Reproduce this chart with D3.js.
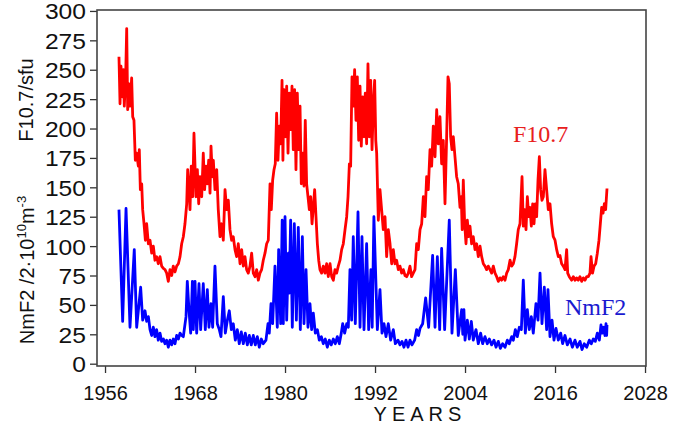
<!DOCTYPE html>
<html><head><meta charset="utf-8">
<script src="https://cdn.jsdelivr.net/npm/d3@7"></script>
<style>body{margin:0;background:#fff}svg{display:block}</style>
</head><body>
<svg id="chart" width="687" height="432"></svg>
<script>
const xTickValues = [1956, 1968, 1980, 1992, 2004, 2016, 2028];
const yTickValues = [0, 25, 50, 75, 100, 125, 150, 175, 200, 225, 250, 275, 300];

const f107Data = [
[1957.86,261],[1958.0,221],[1958.13,253],[1958.3,227],[1958.44,250],[1958.57,219],[1958.75,244],[1958.89,285],
[1959.02,216],[1959.2,238],[1959.33,219],[1959.55,243],[1959.69,210],[1959.86,207],[1960.04,173],[1960.22,179],
[1960.44,168],[1960.57,182],[1960.71,148],[1960.89,153],[1961.02,131],[1961.2,119],[1961.38,105],[1961.55,119],
[1961.78,102],[1962.0,105],[1962.22,94],[1962.44,100],[1962.66,88],[1962.89,91],[1963.1,85],[1963.33,91],
[1963.55,83],[1963.78,81],[1964.0,80],[1964.22,77],[1964.44,70],[1964.66,80],[1964.89,75],[1965.1,83],
[1965.33,78],[1965.55,83],[1965.78,85],[1966.0,91],[1966.22,102],[1966.44,108],[1966.66,119],[1966.89,136],
[1967.02,165],[1967.15,153],[1967.33,131],[1967.5,168],[1967.69,142],[1967.86,196],[1968.13,142],[1968.31,165],
[1968.49,136],[1968.66,159],[1968.89,142],[1969.1,179],[1969.28,148],[1969.46,168],[1969.64,153],[1969.82,173],
[1970.0,145],[1970.13,185],[1970.31,159],[1970.44,173],[1970.66,148],[1970.89,165],[1971.1,131],[1971.33,108],
[1971.55,119],[1971.77,105],[1972.0,148],[1972.22,131],[1972.44,139],[1972.66,114],[1972.88,105],[1973.1,108],
[1973.33,97],[1973.55,91],[1973.77,102],[1974.0,85],[1974.22,97],[1974.44,83],[1974.66,91],[1974.88,80],
[1975.1,77],[1975.33,83],[1975.55,94],[1975.77,77],[1976.0,74],[1976.22,80],[1976.44,71],[1976.66,77],
[1976.88,80],[1977.1,88],[1977.33,94],[1977.55,102],[1977.77,105],[1978.0,153],[1978.17,131],[1978.35,156],
[1978.53,165],[1978.7,170],[1978.88,213],[1979.06,173],[1979.24,202],[1979.42,187],[1979.6,241],[1979.72,173],
[1979.86,233],[1980.04,193],[1980.22,236],[1980.4,179],[1980.58,230],[1980.75,199],[1980.93,236],[1981.1,182],
[1981.28,233],[1981.46,165],[1981.64,230],[1981.82,182],[1982.0,219],[1982.17,153],[1982.35,179],[1982.53,151],
[1982.7,207],[1982.88,153],[1983.06,142],[1983.24,131],[1983.42,142],[1983.6,119],[1983.77,133],[1983.95,148],
[1984.13,125],[1984.31,102],[1984.49,88],[1984.66,80],[1984.88,77],[1985.1,83],[1985.33,77],[1985.55,85],
[1985.77,74],[1986.0,85],[1986.22,74],[1986.44,71],[1986.66,80],[1986.88,77],[1987.1,83],[1987.33,88],
[1987.55,97],[1987.77,102],[1988.0,114],[1988.22,125],[1988.4,142],[1988.58,170],[1988.75,168],[1988.93,244],
[1989.1,219],[1989.28,250],[1989.46,207],[1989.64,244],[1989.82,190],[1990.0,236],[1990.17,185],[1990.35,227],
[1990.53,193],[1990.7,230],[1990.88,187],[1991.06,255],[1991.24,193],[1991.42,241],[1991.6,182],[1991.8,225],
[1991.95,241],[1992.1,190],[1992.22,179],[1992.44,122],[1992.66,148],[1992.88,131],[1993.1,114],[1993.33,125],
[1993.55,91],[1993.77,114],[1994.0,102],[1994.22,85],[1994.44,97],[1994.66,85],[1994.88,88],[1995.1,80],
[1995.33,83],[1995.55,77],[1995.77,80],[1996.0,75],[1996.22,74],[1996.44,77],[1996.66,83],[1996.88,74],
[1997.1,77],[1997.33,80],[1997.55,102],[1997.77,97],[1998.0,114],[1998.22,119],[1998.44,142],[1998.66,125],
[1998.88,159],[1999.1,148],[1999.33,182],[1999.55,168],[1999.77,202],[2000.0,176],[2000.22,216],[2000.44,187],
[2000.66,210],[2000.88,170],[2001.1,190],[2001.33,136],[2001.55,193],[2001.73,244],[2001.9,238],[2002.08,193],
[2002.26,182],[2002.44,193],[2002.66,176],[2002.88,159],[2003.1,153],[2003.33,133],[2003.5,142],[2003.62,114],
[2003.77,156],[2003.95,119],[2004.13,102],[2004.31,122],[2004.49,108],[2004.66,117],[2004.88,102],[2005.1,108],
[2005.33,97],[2005.55,102],[2005.77,91],[2006.0,100],[2006.22,91],[2006.44,85],[2006.66,83],[2006.88,80],
[2007.1,83],[2007.33,80],[2007.55,77],[2007.77,83],[2008.0,77],[2008.22,74],[2008.44,70],[2008.66,73],
[2008.88,71],[2009.1,74],[2009.33,71],[2009.55,77],[2009.77,80],[2010.0,88],[2010.22,83],[2010.44,85],
[2010.66,91],[2010.88,102],[2011.1,114],[2011.33,119],[2011.6,159],[2011.77,117],[2011.95,131],[2012.13,114],
[2012.31,142],[2012.49,125],[2012.66,133],[2012.84,117],[2013.02,136],[2013.2,119],[2013.37,136],[2013.55,125],
[2013.73,156],[2013.91,176],[2014.08,148],[2014.26,139],[2014.44,142],[2014.66,165],[2014.88,148],[2015.1,131],
[2015.33,136],[2015.55,119],[2015.77,108],[2016.0,105],[2016.22,97],[2016.44,91],[2016.66,92],[2016.88,85],
[2017.1,83],[2017.33,80],[2017.55,97],[2017.69,77],[2017.9,74],[2018.22,71],[2018.44,74],[2018.66,71],
[2018.88,73],[2019.1,71],[2019.33,74],[2019.55,70],[2019.77,73],[2020.0,71],[2020.22,74],[2020.44,74],
[2020.66,77],[2020.8,91],[2021.0,77],[2021.2,83],[2021.42,85],[2021.64,94],[2021.86,105],[2022.04,119],
[2022.22,133],[2022.4,128],[2022.58,136],[2022.75,131],[2022.93,149]
];

const nmf2Data = [
[1957.86,131],[1958.35,36],[1958.8,132],[1959.33,31],[1959.9,97],[1960.22,31],[1960.75,65],[1961.02,37],
[1961.33,45],[1961.55,36],[1961.78,40],[1962.0,29],[1962.22,24],[1962.44,31],[1962.66,23],[1962.88,29],
[1963.1,20],[1963.33,26],[1963.55,19],[1963.78,21],[1964.0,17],[1964.22,20],[1964.44,14],[1964.66,20],
[1964.89,16],[1965.1,21],[1965.33,17],[1965.55,24],[1965.78,21],[1966.0,26],[1966.22,24],[1966.44,23],
[1966.8,40],[1966.97,70],[1967.2,45],[1967.42,26],[1967.65,70],[1967.77,29],[1968.0,70],[1968.22,26],
[1968.53,68],[1968.75,29],[1969.1,68],[1969.37,29],[1969.64,63],[1969.86,31],[1970.13,51],[1970.35,31],
[1970.66,83],[1970.97,34],[1971.24,29],[1971.46,23],[1971.77,57],[1972.04,26],[1972.31,37],[1972.57,45],
[1972.84,29],[1973.1,34],[1973.37,20],[1973.64,29],[1973.9,17],[1974.17,27],[1974.44,17],[1974.71,26],
[1974.97,16],[1975.24,24],[1975.5,16],[1975.77,24],[1976.04,16],[1976.31,23],[1976.57,14],[1976.84,21],
[1977.1,17],[1977.46,20],[1977.73,34],[1977.9,26],[1978.13,51],[1978.35,34],[1978.66,83],[1978.97,31],
[1979.15,97],[1979.42,34],[1979.62,122],[1979.77,34],[1980.0,125],[1980.22,37],[1980.45,94],[1980.55,60],
[1980.75,122],[1980.97,31],[1981.24,119],[1981.51,37],[1981.77,116],[1982.04,29],[1982.31,108],[1982.53,34],
[1982.8,80],[1983.06,31],[1983.33,51],[1983.55,29],[1983.77,43],[1984.04,26],[1984.31,29],[1984.57,20],
[1984.84,23],[1985.1,17],[1985.37,21],[1985.64,14],[1985.9,20],[1986.17,16],[1986.44,21],[1986.71,17],
[1986.97,23],[1987.24,17],[1987.5,26],[1987.69,34],[1987.95,26],[1988.22,34],[1988.44,31],[1988.66,80],
[1988.88,37],[1989.1,108],[1989.37,34],[1989.73,129],[1990.0,31],[1990.26,108],[1990.53,29],[1990.88,102],
[1991.15,29],[1991.45,80],[1991.62,31],[1991.85,125],[1992.31,29],[1992.66,63],[1992.93,26],[1993.2,34],
[1993.46,23],[1993.77,34],[1994.08,20],[1994.44,29],[1994.71,17],[1995.06,20],[1995.33,16],[1995.6,19],
[1995.86,14],[1996.13,20],[1996.4,14],[1996.66,20],[1996.93,16],[1997.28,20],[1997.55,29],[1997.8,24],
[1998.0,30],[1998.35,34],[1998.75,56],[1999.15,31],[1999.68,92],[2000.0,31],[2000.31,91],[2000.62,29],
[2000.88,98],[2001.28,29],[2001.9,122],[2002.26,26],[2002.71,80],[2003.1,24],[2003.55,46],[2003.7,25],
[2003.85,46],[2004.0,20],[2004.31,37],[2004.57,21],[2004.84,36],[2005.1,20],[2005.46,29],[2005.77,17],
[2006.08,26],[2006.35,17],[2006.66,23],[2006.97,17],[2007.24,21],[2007.55,16],[2007.86,20],[2008.13,14],
[2008.44,19],[2008.71,13],[2009.02,17],[2009.33,14],[2009.64,20],[2009.9,17],[2010.22,23],[2010.44,20],
[2010.71,29],[2010.97,23],[2011.24,31],[2011.51,29],[2011.77,71],[2012.04,26],[2012.31,46],[2012.57,29],
[2012.84,40],[2013.1,26],[2013.46,51],[2013.73,37],[2014.0,77],[2014.26,34],[2014.57,65],[2014.88,29],
[2015.06,63],[2015.33,23],[2015.6,37],[2015.86,20],[2016.13,30],[2016.44,20],[2016.75,26],[2017.02,17],
[2017.33,24],[2017.64,16],[2018.0,21],[2018.31,14],[2018.66,20],[2018.97,14],[2019.33,19],[2019.6,12],
[2019.9,17],[2020.22,14],[2020.57,20],[2020.84,17],[2021.1,21],[2021.37,19],[2021.64,26],[2021.91,20],
[2022.13,33],[2022.31,26],[2022.49,31],[2022.66,24],[2022.8,34],[2022.88,24],[2022.93,33]
];

const svg = d3.select("#chart");
const L = 97, R = 646, T = 10, B = 366;
const x = d3.scaleLinear().domain([1954.93, 2028.13]).range([L, R]);
const y = d3.scaleLinear().domain([-1.96, 300.8]).range([B, T]);
const sans = "'Liberation Sans', Arial, sans-serif";
const serif = "'Liberation Serif', 'Times New Roman', serif";

// axes
const xAxis = svg.append("g").attr("transform", `translate(0,${B})`)
  .call(d3.axisBottom(x).tickValues(xTickValues).tickFormat(d3.format("d")).tickSize(7).tickSizeOuter(0).tickPadding(13));
const yAxis = svg.append("g").attr("transform", `translate(${L},0)`)
  .call(d3.axisLeft(y).tickValues(yTickValues).tickSize(7).tickSizeOuter(0).tickPadding(4));
[xAxis, yAxis].forEach(g => {
  g.select(".domain").remove();
  g.selectAll(".tick line").attr("stroke", "#333").attr("stroke-width", 1.3);
  g.selectAll(".tick text").attr("fill", "#111").style("font-family", sans);
});
xAxis.selectAll(".tick text").style("font-size", "20px");
const sx = 1.12;
yAxis.selectAll(".tick text").style("font-size", "22px")
  .attr("x", -11 / sx).attr("dy", "0.36em").attr("transform", `scale(${sx},1)`);

// frame
svg.append("rect").attr("x", L).attr("y", T).attr("width", R - L).attr("height", B - T)
  .attr("fill", "none").attr("stroke", "#444").attr("stroke-width", 1.6);

// lines
const line = d3.line().x(d => x(d[0])).y(d => y(d[1]));
svg.append("path").datum(f107Data).attr("d", line)
  .attr("fill", "none").attr("stroke", "#ff0000").attr("stroke-width", 2.8).attr("stroke-linejoin", "round");
svg.append("path").datum(nmf2Data).attr("d", line)
  .attr("fill", "none").attr("stroke", "#0000ff").attr("stroke-width", 2.8).attr("stroke-linejoin", "round");

// series labels
svg.append("text").attr("x", 513).attr("y", 142).text("F10.7")
  .style("font-family", serif).style("font-size", "24px").attr("fill", "#e8201c");
svg.append("text").attr("x", 565).attr("y", 315).text("NmF2")
  .style("font-family", serif).style("font-size", "24px").attr("fill", "#1a1ad0");

// axis titles
svg.append("text").attr("x", 420).attr("y", 421).attr("text-anchor", "middle")
  .style("font-family", sans).style("font-size", "20px").style("letter-spacing", "5px")
  .attr("fill", "#111").text("YEARS");

svg.append("text").attr("transform", "translate(33,100) rotate(-90)").attr("text-anchor", "middle")
  .style("font-family", sans).style("font-size", "20px").attr("fill", "#111").text("F10.7/sfu");

const t2 = svg.append("text").attr("transform", "translate(34,270) rotate(-90)").attr("text-anchor", "middle")
  .style("font-family", sans).style("font-size", "20px").attr("fill", "#111");
t2.append("tspan").text("NmF2 /2·10");
t2.append("tspan").attr("dy", -8).style("font-size", "13px").text("10");
t2.append("tspan").attr("dy", 8).text("m");
t2.append("tspan").attr("dy", -8).style("font-size", "13px").text("-3");
</script>
</body></html>
